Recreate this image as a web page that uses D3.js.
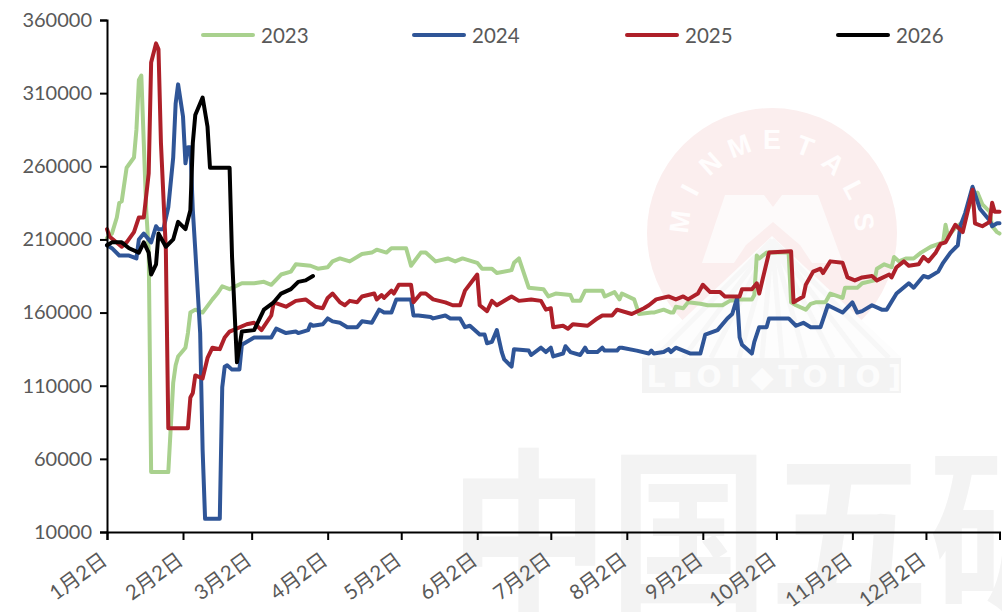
<!DOCTYPE html>
<html><head><meta charset="utf-8">
<script src="https://cdn.jsdelivr.net/npm/d3@7/dist/d3.min.js"></script>
<style>html,body{margin:0;padding:0;background:#fff;overflow:hidden}svg{display:block}</style>
</head><body><svg id="c" width="1002" height="612"></svg>
<script>
const seriesNames = ["2023","2024","2025","2026"];
const seriesColors = ["#A9D18E","#2F5597","#AE2029","#000000"];
const tickDays = [0,31,59,90,120,151,181,212,243,273,304,334];
const tickLabels = ["1月2日","2月2日","3月2日","4月2日","5月2日","6月2日","7月2日","8月2日","9月2日","10月2日","11月2日","12月2日"];
const yTicks = [10000,60000,110000,160000,210000,260000,310000,360000];

// day offset from Jan 2, value in thousands
const days2023 = [0,2,4,5,6,8,11,12,13,14,15,16,17,18,25,27,28,29,32,33,34,36,39,43,45,47,50,55,60,64,67,71,75,77,83,86,90,92,95,99,104,108,110,114,116,122,124,128,130,134,139,142,145,151,153,157,159,165,166,168,172,178,180,183,189,190,193,195,202,203,207,209,210,215,217,222,223,227,230,231,232,235,237,242,245,251,254,258,263,264,265,266,269,278,279,281,285,287,289,293,295,300,301,306,308,313,314,317,320,321,323,326,329,332,336,341,342,343,346,349,351,353,355,357,360,361,363,364];
const vals2023 = [211,214,225,235,236,259,266,285,319,322,276,230,203,51,51,112,124,130,136,146,160,162,160,169,173,178,176,180,180,181,179,186,188,193,192,190,191,195,197,195,200,201,203,201,204,204,192,201,201,195,197,195,197,194,190,190,187,189,194,197,177,176,171,173,172,168,168,175,175,171,174,169,173,169,159,160,160,162,160,160,164,163,167,166,165,165,168,169,169,172,199,197,201,201,167,165,162,166,167,167,173,170,177,177,180,182,190,193,191,198,195,197,197,201,205,208,220,212,218,222,230,237,242,234,229,219,215,214];

const days2024 = [0,2,5,9,12,13,15,18,20,21,23,25,27,28,29,31,32,33,34,35,36,38,39,40,46,47,48,49,51,54,55,60,62,67,69,73,77,78,82,83,84,88,90,92,95,98,102,104,108,111,113,116,118,124,125,127,132,133,138,140,144,146,148,152,154,155,157,159,161,162,165,166,172,173,177,179,181,182,186,187,189,193,195,196,200,202,203,208,209,210,216,221,222,223,227,229,230,232,238,242,244,249,253,255,257,258,259,263,264,266,269,270,278,281,284,287,291,294,300,304,306,308,312,316,318,322,327,329,333,335,339,341,344,347,348,350,353,356,360,361,363,364];
const vals2024 = [206,204,199,199,197,210,214,208,219,217,217,232,266,303,316,294,262,273,273,230,203,146,66,19,19,109,123,124,121,121,138,143,143,143,149,146,147,146,148,152,151,152,156,154,153,150,150,154,153,162,160,160,169,169,158,158,157,156,158,156,156,150,151,145,145,139,140,148,133,128,123,135,134,131,136,133,136,130,132,137,133,131,136,133,133,136,134,134,136,136,134,132,134,132,133,135,133,136,132,132,145,148,156,159,170,143,138,132,140,150,150,156,156,151,153,150,150,165,160,167,160,161,165,162,162,173,180,177,185,184,188,194,201,206,219,228,246,231,223,219,221,221];

const days2025 = [0,1,6,8,11,13,15,17,18,20,21,22,24,25,33,34,35,36,39,41,43,46,48,50,57,60,63,67,68,73,77,81,85,88,90,92,95,97,99,102,104,109,110,112,113,116,117,119,124,125,128,130,133,138,141,144,146,151,152,155,157,159,165,168,173,177,179,181,182,186,188,190,196,200,202,206,208,214,219,221,224,229,232,235,237,241,243,246,250,252,258,259,263,265,266,270,279,280,284,285,288,291,292,295,300,302,305,308,312,314,319,320,322,325,327,331,333,335,338,340,342,346,349,351,353,354,357,360,361,362,364];
const vals2025 = [217,212,205,208,215,225,225,255,331,344,340,276,203,81,81,102,105,117,115,129,136,135,143,147,152,153,148,158,167,164,168,169,164,163,170,173,167,165,168,167,171,173,169,172,170,175,173,179,179,167,173,173,169,167,165,165,175,186,165,161,168,165,171,168,169,168,162,163,150,151,149,152,151,156,158,158,162,159,163,165,169,171,169,171,169,173,179,174,174,171,171,176,176,180,173,201,202,167,171,179,188,190,187,195,194,184,182,184,185,182,186,184,191,195,192,193,198,195,201,207,208,220,215,229,244,221,219,222,235,229,229];

const days2026 = [0,2,6,9,13,15,17,18,20,21,24,27,29,32,34,35,36,39,41,42,50,51,53,55,60,64,68,71,75,78,81,84];
const vals2026 = [206,208,208,204,201,208,201,186,193,214,205,210,222,217,230,276,295,307,287,259,259,198,126,147,148,162,167,173,176,181,182,185];

const seriesDays = [days2023,days2024,days2025,days2026];
const seriesVals = [vals2023,vals2024,vals2025,vals2026];

const FONT = "Lato, 'Noto Sans CJK SC', sans-serif";
const svg = d3.select("#c");
const x = d3.scaleLinear().domain([0,364]).range([107,999.5]);
const y = d3.scaleLinear().domain([10000,360000]).range([532,20]);

// watermark: circle emblem
const wm = svg.append("g");
wm.append("circle").attr("cx",772).attr("cy",233).attr("r",125).attr("fill","#fbeeee");
// fan of rays
wm.append("path").attr("d","M772,236L902,358H642Z").attr("fill","#fdfdfd");
[[655,358],[683,358],[711,358],[739,358],[762,358],[782,358],[805,358],[833,358],[861,358],[889,358]].forEach(p=>{
  wm.append("line").attr("x1",772).attr("y1",240).attr("x2",p[0]).attr("y2",p[1]).attr("stroke","#f7f7f7").attr("stroke-width",5);
});
// M shape
wm.append("path").attr("d","M702,263L725,195H764L773,207L782,195H818L843,263H812L800,245L773,222L746,245L734,263Z").attr("fill","#fdfafa");
// base band
wm.append("rect").attr("x",642).attr("y",358).attr("width",259).attr("height",35).attr("fill","#f3f3f3");
const baseSyms=["L","▪","O","I","◆","T","O","I","O","]"];
wm.selectAll("text.b").data(baseSyms).join("text").attr("class","b")
 .attr("x",(d,i)=>656+i*26.5).attr("y",387).attr("text-anchor","middle")
 .attr("font-family","'DejaVu Sans'").attr("font-weight",700).attr("font-size",30).attr("fill","#fcfcfc").text(d=>d);
// arc letters
const arcLetters="MINMETALS".split("");
arcLetters.forEach((c,i)=>{
  const a=-83+i*20.75;
  const r=93, rad=(a-90)*Math.PI/180;
  const cx=772+r*Math.cos(rad), cy=233+r*Math.sin(rad);
  wm.append("text").attr("transform",`translate(${cx},${cy}) rotate(${a})`).attr("text-anchor","middle").attr("dy","0.35em")
    .attr("font-family","'Liberation Sans'").attr("font-weight",700).attr("font-size",27).attr("fill","#fffdfd").text(c);
});
// big text
svg.append("text").attr("transform","translate(449,596) scale(1,1.09)").attr("font-family","'Noto Sans CJK SC'").attr("font-weight",700)
  .attr("font-size",160).attr("fill","#f3f3f3").text("中国五矿");

// lines
const line = d3.line().x(d=>x(d[0])).y(d=>y(d[1]*1000));
seriesNames.forEach((name,i)=>{
  svg.append("path").datum(d3.zip(seriesDays[i],seriesVals[i])).attr("d",line)
    .attr("fill","none").attr("stroke",seriesColors[i]).attr("stroke-width",4)
    .attr("stroke-linejoin","round").attr("stroke-linecap","round");
});

// axes
const ax = svg.append("g").attr("transform","translate(0,532)")
  .call(d3.axisBottom(x).tickValues(tickDays).tickFormat((d,i)=>tickLabels[i]).tickSize(8).tickPadding(6));
ax.select(".domain").attr("stroke","#000").attr("stroke-width",2);
ax.selectAll(".tick line").attr("stroke","#000").attr("stroke-width",2);
ax.selectAll(".tick text").attr("font-family",FONT).attr("font-size",20.5).attr("fill","#595959")
  .attr("text-anchor","end").attr("dy",0).attr("transform","translate(1,31) rotate(-36)").attr("y",0).attr("x",0);

const ay = svg.append("g").attr("transform","translate(107,0)")
  .call(d3.axisLeft(y).tickValues(yTicks).tickFormat(d3.format("d")).tickSize(7).tickPadding(8));
ay.select(".domain").attr("stroke","#000").attr("stroke-width",2);
ay.selectAll(".tick line").attr("stroke","#000").attr("stroke-width",2);
ay.selectAll(".tick text").attr("font-family",FONT).attr("font-size",20).attr("fill","#595959");

// legend
const lgX=[203,414,627,838];
seriesNames.forEach((name,i)=>{
  svg.append("line").attr("x1",lgX[i]).attr("x2",lgX[i]+50).attr("y1",35).attr("y2",35)
    .attr("stroke",seriesColors[i]).attr("stroke-width",4).attr("stroke-linecap","round");
  svg.append("text").attr("x",lgX[i]+58).attr("y",42.5).attr("font-family",FONT).attr("font-size",20.5)
    .attr("fill","#595959").text(name);
});
</script></body></html>
